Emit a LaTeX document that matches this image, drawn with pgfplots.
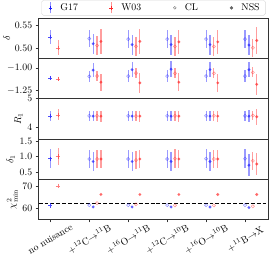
\documentclass[border=0pt]{standalone}
\usepackage{pgfplots}
\pgfplotsset{compat=1.18}
\usepgfplotslibrary{groupplots}
\definecolor{gb}{RGB}{30,30,255}
\definecolor{gr}{RGB}{255,40,40}
\pgfplotsset{
  ebar/.style={error bars/.cd, y dir=both, y explicit, error mark=none,
    error bar style={line width=1.2pt, color=#1, opacity=0.45}},
  nnG/.style={only marks, mark=+, mark size=2.2pt, color=gb, mark options={opacity=0.8}, forget plot, ebar=gb},
  nnW/.style={only marks, mark=+, mark size=2.2pt, color=gr, mark options={opacity=0.6}, forget plot, ebar=gr},
  clG/.style={only marks, mark=o, mark size=1.6pt, color=gb, mark options={opacity=0.45, line width=0.6pt}, forget plot, ebar=gb},
  nsG/.style={only marks, mark=*, mark size=1.6pt, color=gb, mark options={opacity=0.7, draw opacity=0}, forget plot, ebar=gb},
  clW/.style={only marks, mark=o, mark size=1.6pt, color=gr, mark options={opacity=0.45, line width=0.6pt}, forget plot, ebar=gr},
  nsW/.style={only marks, mark=*, mark size=1.6pt, color=gr, mark options={opacity=0.7, draw opacity=0}, forget plot, ebar=gr},
}
\newcommand\labA{$+^{12}$C$\rightarrow^{11}$B}
\newcommand\labB{$+^{16}$O$\rightarrow^{11}$B}
\newcommand\labC{$+^{12}$C$\rightarrow^{10}$B}
\newcommand\labD{$+^{16}$O$\rightarrow^{10}$B}
\newcommand\labE{$+^{11}$B$\rightarrow$X}
\begin{document}
\begin{tikzpicture}
\begin{groupplot}[
  group style={group size=1 by 5, vertical sep=0pt, xticklabels at=edge bottom},
  scale only axis, width=234bp, height=41bp,
  xmin=-0.3, xmax=5.6,
  axis line style={black!80, line width=0.6pt},
  tick style={black!80, line width=0.5pt},
  tick align=outside, tick pos=left,
  major tick length=3bp,
  xtick=\empty,
  ylabel shift=-2pt,
]
% ---- delta
\nextgroupplot[ymin=0.478, ymax=0.566, ytick={0.50,0.55}, ylabel={$\delta$},
  yticklabel style={/pgf/number format/.cd, fixed, fixed zerofill, precision=2},
  legend style={at={(0.5,1.0)}, anchor=south, yshift=2.5bp, legend columns=4,
    draw=black!15, rounded corners=2pt, inner xsep=4pt, inner ysep=1.5pt, cells={anchor=west},
    /tikz/every odd column/.append style={column sep=3bp},
    /tikz/every even column/.append style={column sep=27bp}}]
\addlegendimage{legend image code/.code={\path (0,0) (0.35cm,0); \draw[gb, opacity=0.5, line width=0.8pt] (0.175cm,-0.2cm)--(0.175cm,0.2cm); \draw[gb, line width=0.5pt] (0.105cm,0)--(0.245cm,0); \draw[gb, line width=0.5pt] (0.175cm,-0.07cm)--(0.175cm,0.07cm);}}
\addlegendentry{G17}
\addlegendimage{legend image code/.code={\path (0,0) (0.35cm,0); \draw[gr, opacity=0.5, line width=0.8pt] (0.175cm,-0.2cm)--(0.175cm,0.2cm); \draw[gr, line width=0.5pt] (0.105cm,0)--(0.245cm,0); \draw[gr, line width=0.5pt] (0.175cm,-0.07cm)--(0.175cm,0.07cm);}}
\addlegendentry{W03}
\addlegendimage{legend image code/.code={\path (0,0) (0.35cm,0); \draw[black!50, line width=0.5pt] (0.175cm,0) circle (1.4pt);}}
\addlegendentry{CL}
\addlegendimage{legend image code/.code={\path (0,0) (0.35cm,0); \fill[black!60] (0.175cm,0) circle (1.5pt);}}
\addlegendentry{NSS}
\addplot[nnG] table[x=x,y=y,y error=e] {x y e
0 0.525 0.015
};
\addplot[nnW] table[x=x,y=y,y error=e] {x y e
0.2 0.501 0.016
};
\addplot[clG] table[x=x,y=y,y error=e] {x y e
1 0.521 0.019
2 0.520 0.019
3 0.520 0.019
4 0.520 0.019
5 0.520 0.019
};
\addplot[nsG] table[x=x,y=y,y error=e] {x y e
1.1 0.510 0.022
2.1 0.508 0.022
3.1 0.508 0.022
4.1 0.508 0.022
5.1 0.507 0.022
};
\addplot[clW] table[x=x,y=y,y error=e] {x y e
1.2 0.506 0.020
2.2 0.504 0.020
3.2 0.504 0.020
4.2 0.504 0.020
5.2 0.501 0.020
};
\addplot[nsW] table[x=x,y=y,y error=e] {x y e
1.3 0.515 0.027
2.3 0.515 0.028
3.3 0.514 0.027
4.3 0.514 0.027
5.3 0.517 0.029
};
% ---- second
\nextgroupplot[ymin=-1.336, ymax=-0.896, ytick={-1.25,-1.00},
  yticklabel style={/pgf/number format/.cd, fixed, fixed zerofill, precision=2}]
\addplot[nnG] table[x=x,y=y,y error=e] {x y e
0 -1.110 0.020
};
\addplot[nnW] table[x=x,y=y,y error=e] {x y e
0.2 -1.120 0.025
};
\addplot[clG] table[x=x,y=y,y error=e] {x y e
1 -1.094 0.063
2 -1.090 0.063
3 -1.090 0.063
4 -1.090 0.063
5 -1.090 0.063
};
\addplot[nsG] table[x=x,y=y,y error=e] {x y e
1.1 -1.025 0.075
2.1 -1.020 0.085
3.1 -1.015 0.090
4.1 -1.020 0.080
5.1 -1.020 0.080
};
\addplot[clW] table[x=x,y=y,y error=e] {x y e
1.2 -1.089 0.055
2.2 -1.057 0.055
3.2 -1.060 0.055
4.2 -1.060 0.055
5.2 -1.050 0.055
};
\addplot[nsW] table[x=x,y=y,y error=e] {x y e
1.3 -1.157 0.095
2.3 -1.164 0.110
3.3 -1.157 0.100
4.3 -1.164 0.100
5.3 -1.180 0.115
};
% ---- R1
\nextgroupplot[ymin=3.6, ymax=5.0, ytick={4,5}, ylabel={$R_1$}]
\addplot[nnG] table[x=x,y=y,y error=e] {x y e
0 4.40 0.17
};
\addplot[nnW] table[x=x,y=y,y error=e] {x y e
0.2 4.44 0.20
};
\addplot[clG] table[x=x,y=y,y error=e] {x y e
1 4.40 0.17
2 4.40 0.17
3 4.40 0.17
4 4.40 0.17
5 4.40 0.17
};
\addplot[nsG] table[x=x,y=y,y error=e] {x y e
1.1 4.39 0.18
2.1 4.39 0.18
3.1 4.39 0.18
4.1 4.39 0.18
5.1 4.39 0.20
};
\addplot[clW] table[x=x,y=y,y error=e] {x y e
1.2 4.40 0.17
2.2 4.39 0.17
3.2 4.40 0.17
4.2 4.40 0.17
5.2 4.41 0.17
};
\addplot[nsW] table[x=x,y=y,y error=e] {x y e
1.3 4.39 0.19
2.3 4.39 0.19
3.3 4.39 0.19
4.3 4.39 0.19
5.3 4.37 0.28
};
% ---- delta1
\nextgroupplot[ymin=0.27, ymax=1.57, ytick={0.5,1.0,1.5}, ylabel={$\delta_1$},
  yticklabel style={/pgf/number format/.cd, fixed, fixed zerofill, precision=1}]
\addplot[nnG] table[x=x,y=y,y error=e] {x y e
0 0.93 0.30
};
\addplot[nnW] table[x=x,y=y,y error=e] {x y e
0.2 1.00 0.27
};
\addplot[clG] table[x=x,y=y,y error=e] {x y e
1 0.92 0.30
2 0.92 0.30
3 0.92 0.30
4 0.93 0.30
5 0.93 0.30
};
\addplot[nsG] table[x=x,y=y,y error=e] {x y e
1.1 0.84 0.30
2.1 0.84 0.30
3.1 0.84 0.30
4.1 0.84 0.30
5.1 0.72 0.35
};
\addplot[clW] table[x=x,y=y,y error=e] {x y e
1.2 0.92 0.30
2.2 0.885 0.30
3.2 0.93 0.30
4.2 0.92 0.30
5.2 0.86 0.30
};
\addplot[nsW] table[x=x,y=y,y error=e] {x y e
1.3 0.92 0.30
2.3 0.92 0.30
3.3 0.92 0.30
4.3 0.92 0.30
5.3 0.76 0.36
};
% ---- chi2
\nextgroupplot[ymin=55, ymax=73.1, ytick={60,70}, ylabel={$\chi^2_{\min}$},
  xtick={0,1,2,3,4,5},
  xticklabels={no nuisance,\labA,\labB,\labC,\labD,\labE},
  xticklabel style={yshift=-17bp, rotate=30, anchor=center}]
\addplot[black, dashed, line width=1.1pt, dash pattern=on 4bp off 2bp, forget plot] coordinates {(-0.3,62.0) (5.6,62.0)};
\addplot[nnG] coordinates {(0,61.3)};
\addplot[nnW] coordinates {(0.2,70.1)};
\addplot[clG] coordinates {(1,61.4) (2,61.4) (3,61.4) (4,61.4) (5,61.4)};
\addplot[nsG] coordinates {(1.1,60.6) (2.1,60.6) (3.1,60.6) (4.1,60.6) (5.1,60.3)};
\addplot[clW] coordinates {(1.2,62.3) (2.2,61.8) (3.2,61.3) (4.2,61.3) (5.2,60.9)};
\addplot[nsW] coordinates {(1.3,66.2) (2.3,66.2) (3.3,66.2) (4.3,66.2) (5.3,66.2)};
\end{groupplot}
\end{tikzpicture}
\end{document}
